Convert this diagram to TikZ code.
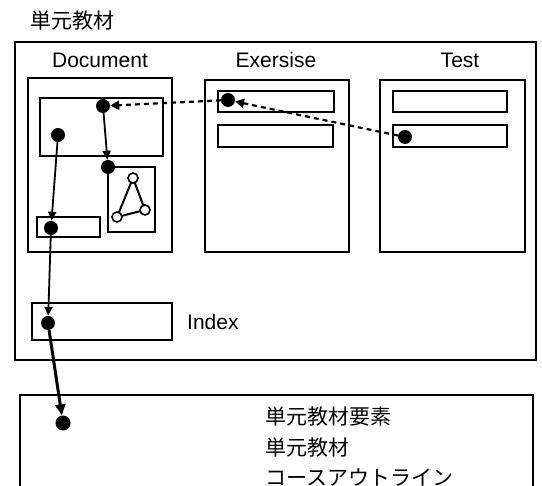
\documentclass[tikz,border=0pt]{standalone}
\usepackage{fontspec}
\setmainfont{Liberation Sans}
\newfontfamily\cjk{Noto Sans CJK JP}
\usetikzlibrary{arrows.meta}
\begin{document}
\begin{tikzpicture}[x=1pt,y=-1pt,
  box/.style={draw,line width=2pt,inner sep=0pt,outer sep=0pt,anchor=north west},
  dot/.style={circle,fill=black,inner sep=0pt,minimum size=14pt},
  odot/.style={circle,draw,fill=white,line width=1.6pt,inner sep=0pt,minimum size=10pt},
  lbl/.style={font=\fontsize{21}{25}\selectfont,inner sep=0pt},
  jlbl/.style={font=\cjk\fontsize{21}{25}\selectfont,inner sep=0pt,anchor=west},
  arr/.style={line width=1.8pt,-{Triangle[length=9pt,width=8pt]}},
  darr/.style={line width=2.2pt,dash pattern=on 5pt off 4pt,-{Triangle[length=9pt,width=9pt]}},
  tarr/.style={line width=3pt,-{Triangle[length=11pt,width=10pt]}}]
\useasboundingbox (0,0) rectangle (542,486);
\node[jlbl] (title) at (30,21) {単元教材};
\node[box,minimum width=521pt,minimum height=318pt] (outer) at (15,42) {};
\node[lbl] (ldoc) at (100,60) {Document};
\node[lbl] (lex) at (276,60) {Exersise};
\node[lbl] (ltest) at (460,60) {Test};
\node[box,minimum width=144pt,minimum height=174pt] (doc) at (28,78) {};
\node[box,minimum width=144pt,minimum height=172pt] (ex) at (205,80) {};
\node[box,minimum width=145pt,minimum height=172pt] (test) at (380,80) {};
\node[box,minimum width=123pt,minimum height=58pt] (docmain) at (40,98) {};
\node[box,minimum width=47pt,minimum height=65pt] (gbox) at (108,167) {};
\node[box,minimum width=63pt,minimum height=20pt] (dsmall) at (37,217) {};
\node[box,minimum width=116pt,minimum height=21pt] (exr1) at (218,91) {};
\node[box,minimum width=115pt,minimum height=22pt] (exr2) at (218,125) {};
\node[box,minimum width=114pt,minimum height=21pt] (tr1) at (393,91) {};
\node[box,minimum width=114pt,minimum height=22pt] (tr2) at (393,125) {};
\node[box,minimum width=140pt,minimum height=37pt] (index) at (32,303) {};
\node[lbl,anchor=west] (lindex) at (187,322) {Index};
\node[box,minimum width=513pt,minimum height=110pt] (bottom) at (20,395) {};
\node[jlbl] (t1) at (265,417) {単元教材要素};
\node[jlbl] (t2) at (265,448) {単元教材};
\node[jlbl] (t3) at (265,478) {コースアウトライン};
% dots
\node[dot] (d1) at (103,106) {};
\node[dot] (d2) at (58,135) {};
\node[dot] (gd) at (108,167) {};
\node[dot] (sd) at (51,228) {};
\node[dot] (exd) at (228,100) {};
\node[dot] (td) at (405,137) {};
\node[dot] (id) at (48,323) {};
\node[dot,minimum size=15pt] (bd) at (63,423) {};
% triangle graph
\draw[line width=2pt] (133,178) -- (117,217) -- (145,210) -- cycle;
\node[odot] (ta) at (133,178) {};
\node[odot] (tb) at (117,217) {};
\node[odot] (tc) at (145,210) {};
% arrows
\draw[arr] (d1) -- (gd);
\draw[arr] (d2) -- (sd);
\draw[arr] (sd) -- (id);
\draw[tarr] (id) -- (bd);
\draw[darr] (td) -- (exd);
\draw[darr] (exd) -- (d1);
\end{tikzpicture}
\end{document}
